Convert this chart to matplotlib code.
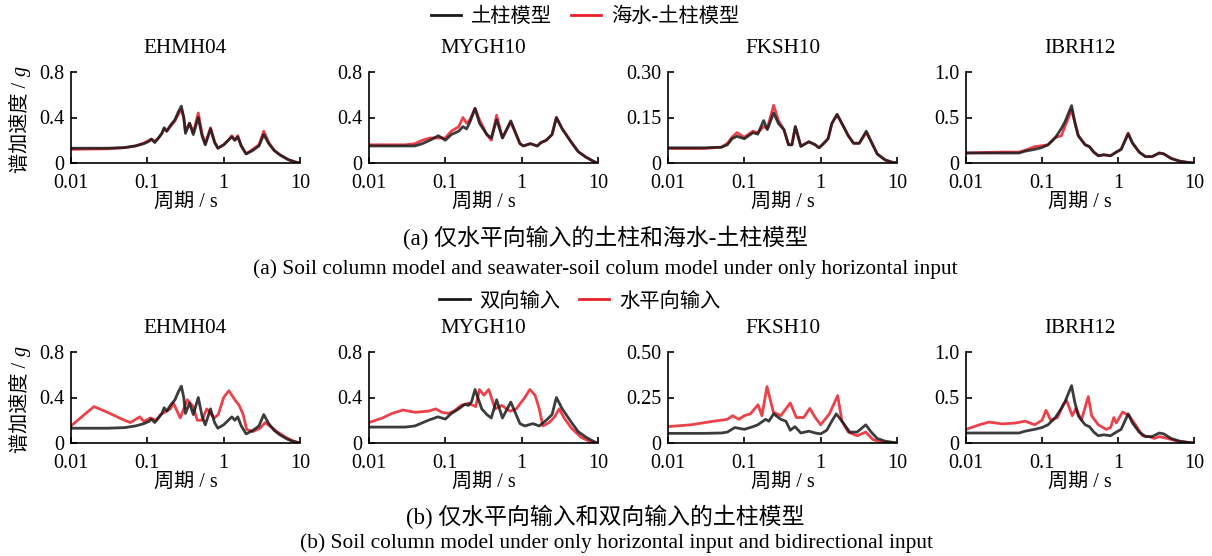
import numpy as np
import matplotlib
matplotlib.use("Agg")
import matplotlib.pyplot as plt
from matplotlib.lines import Line2D

plt.rcParams['font.family'] = ['Liberation Serif', 'Noto Sans CJK SC']

# ---- data (periods in s, spectral acceleration in g) ----
stations = ["EHMH04", "MYGH10", "FKSH10", "IBRH12"]

# (a) soil column (black) vs seawater-soil column (red), horizontal input only
T_a1 = [0.01, 0.03, 0.05, 0.07, 0.09, 0.105, 0.113, 0.125, 0.14, 0.155, 0.166, 0.18, 0.2, 0.23, 0.255,
        0.279, 0.3, 0.316, 0.357, 0.40, 0.465, 0.52, 0.574, 0.673, 0.76, 0.84, 1.0, 1.15, 1.28, 1.4,
        1.53, 1.7, 1.97, 2.4, 2.9, 3.35, 3.9, 4.6, 5.5, 7.0, 8.5, 10]
a1_soil = [0.13, 0.13, 0.135, 0.15, 0.17, 0.19, 0.21, 0.18, 0.22, 0.26, 0.31, 0.28, 0.33, 0.38, 0.45,
           0.50, 0.40, 0.26, 0.35, 0.25, 0.40, 0.24, 0.16, 0.30, 0.18, 0.13, 0.16, 0.20, 0.23, 0.20,
           0.23, 0.15, 0.08, 0.11, 0.15, 0.25, 0.17, 0.11, 0.07, 0.03, 0.01, 0.0]
a1_sea = [0.12, 0.125, 0.135, 0.15, 0.175, 0.20, 0.21, 0.19, 0.22, 0.26, 0.30, 0.28, 0.32, 0.37, 0.43,
          0.47, 0.40, 0.28, 0.35, 0.27, 0.44, 0.26, 0.17, 0.31, 0.19, 0.13, 0.16, 0.20, 0.24, 0.20,
          0.24, 0.15, 0.08, 0.12, 0.16, 0.28, 0.18, 0.11, 0.07, 0.03, 0.01, 0.0]

T_a2 = [0.01, 0.03, 0.04, 0.05, 0.063, 0.081, 0.1, 0.12, 0.15, 0.17, 0.19, 0.21, 0.245, 0.28, 0.35,
        0.40, 0.47, 0.56, 0.72, 0.95, 1.05, 1.3, 1.6, 1.8, 2.1, 2.5, 2.85, 3.4, 4.5, 5.5, 7.0, 9.0, 10]
a2_soil = [0.15, 0.15, 0.15, 0.17, 0.20, 0.24, 0.20, 0.25, 0.28, 0.32, 0.30, 0.36, 0.48, 0.35, 0.25,
           0.22, 0.38, 0.22, 0.37, 0.17, 0.15, 0.17, 0.15, 0.18, 0.20, 0.25, 0.40, 0.30, 0.18, 0.10,
           0.05, 0.01, 0.0]
a2_sea = [0.16, 0.16, 0.17, 0.20, 0.22, 0.22, 0.22, 0.28, 0.32, 0.40, 0.35, 0.38, 0.48, 0.38, 0.25,
          0.20, 0.42, 0.22, 0.36, 0.17, 0.15, 0.17, 0.15, 0.18, 0.20, 0.25, 0.40, 0.30, 0.18, 0.10,
          0.05, 0.01, 0.0]

T_a3 = [0.01, 0.03, 0.05, 0.06, 0.069, 0.08, 0.1, 0.13, 0.15, 0.179, 0.2, 0.242, 0.28, 0.33, 0.38,
        0.42, 0.466, 0.55, 0.7, 0.85, 0.95, 1.1, 1.25, 1.4, 1.64, 1.9, 2.3, 2.7, 3.2, 3.96, 4.6, 5.5,
        7.0, 8.5, 10]
a3_soil = [0.05, 0.05, 0.052, 0.06, 0.08, 0.088, 0.08, 0.10, 0.095, 0.14, 0.11, 0.165, 0.13, 0.11,
           0.06, 0.06, 0.12, 0.055, 0.07, 0.06, 0.05, 0.065, 0.08, 0.13, 0.16, 0.13, 0.09, 0.065, 0.065,
           0.105, 0.07, 0.03, 0.01, 0.003, 0.0]
a3_sea = [0.048, 0.048, 0.052, 0.065, 0.085, 0.10, 0.085, 0.105, 0.10, 0.12, 0.115, 0.19, 0.14, 0.11,
          0.06, 0.06, 0.12, 0.055, 0.07, 0.06, 0.05, 0.065, 0.08, 0.13, 0.16, 0.13, 0.09, 0.065, 0.065,
          0.10, 0.07, 0.03, 0.01, 0.003, 0.0]

T_a4 = [0.01, 0.03, 0.05, 0.06, 0.08, 0.1, 0.12, 0.15, 0.18, 0.2, 0.245, 0.27, 0.3, 0.37, 0.42, 0.48,
        0.55, 0.65, 0.8, 0.95, 1.1, 1.36, 1.55, 1.9, 2.3, 2.8, 3.5, 4.0, 5.0, 6.5, 8.5, 10]
a4_soil = [0.11, 0.11, 0.11, 0.13, 0.15, 0.17, 0.20, 0.28, 0.38, 0.45, 0.63, 0.45, 0.30, 0.20, 0.18,
           0.12, 0.08, 0.09, 0.08, 0.12, 0.15, 0.32, 0.22, 0.12, 0.07, 0.07, 0.11, 0.10, 0.05, 0.02,
           0.005, 0.0]
a4_sea = [0.11, 0.12, 0.12, 0.14, 0.18, 0.19, 0.20, 0.28, 0.30, 0.40, 0.58, 0.45, 0.30, 0.20, 0.18,
          0.12, 0.08, 0.09, 0.08, 0.12, 0.15, 0.33, 0.22, 0.12, 0.07, 0.07, 0.11, 0.10, 0.05, 0.02,
          0.005, 0.0]

# (b) bidirectional input (black) vs horizontal input only (red)
T_b1 = T_a1
b1_bi = a1_soil
T_b1h = [0.01, 0.015, 0.02, 0.03, 0.05, 0.06, 0.08, 0.09, 0.11, 0.13, 0.15, 0.2, 0.22, 0.27, 0.3,
         0.334, 0.4, 0.45, 0.52, 0.6, 0.75, 0.85, 1.0, 1.17, 1.4, 1.6, 1.8, 2.0, 2.4, 3.0, 3.5, 4.2,
         5.0, 6.5, 8.0, 10]
b1_h = [0.15, 0.25, 0.32, 0.27, 0.20, 0.18, 0.23, 0.19, 0.22, 0.20, 0.25, 0.30, 0.35, 0.22, 0.30,
        0.38, 0.32, 0.20, 0.20, 0.30, 0.22, 0.25, 0.40, 0.46, 0.38, 0.33, 0.25, 0.12, 0.10, 0.13, 0.18,
        0.14, 0.10, 0.05, 0.02, 0.0]

T_b2 = [0.01, 0.03, 0.04, 0.06, 0.08, 0.1, 0.12, 0.15, 0.18, 0.2, 0.22, 0.245, 0.3, 0.35, 0.40, 0.47,
        0.56, 0.72, 0.95, 1.1, 1.4, 1.7, 2.1, 2.5, 2.85, 3.4, 4.5, 5.5, 7.0, 9.0, 10]
b2_bi = [0.14, 0.14, 0.15, 0.20, 0.23, 0.21, 0.26, 0.30, 0.34, 0.33, 0.36, 0.47, 0.30, 0.25, 0.22,
         0.38, 0.22, 0.36, 0.17, 0.15, 0.17, 0.15, 0.20, 0.25, 0.40, 0.30, 0.18, 0.10, 0.05, 0.01, 0.0]
T_b2h = [0.01, 0.015, 0.02, 0.028, 0.04, 0.06, 0.075, 0.09, 0.11, 0.13, 0.16, 0.2, 0.25, 0.28, 0.32,
         0.37, 0.45, 0.55, 0.7, 0.85, 1.1, 1.28, 1.5, 1.7, 1.9, 2.3, 2.7, 3.1, 3.6, 4.5, 6.0, 8.0, 10]
b2_h = [0.18, 0.22, 0.26, 0.29, 0.27, 0.28, 0.30, 0.27, 0.26, 0.28, 0.33, 0.35, 0.32, 0.47, 0.42,
        0.47, 0.30, 0.33, 0.28, 0.30, 0.40, 0.47, 0.42, 0.30, 0.15, 0.18, 0.23, 0.30, 0.22, 0.13,
        0.05, 0.01, 0.0]

T_b3 = [0.01, 0.03, 0.05, 0.06, 0.075, 0.1, 0.13, 0.15, 0.19, 0.21, 0.242, 0.3, 0.35, 0.4, 0.46,
        0.55, 0.7, 0.85, 1.0, 1.2, 1.4, 1.6, 1.9, 2.4, 3.0, 3.9, 4.6, 5.5, 7.0, 10]
b3_bi = [0.053, 0.053, 0.055, 0.06, 0.085, 0.075, 0.09, 0.10, 0.13, 0.12, 0.16, 0.13, 0.12, 0.07,
         0.09, 0.055, 0.065, 0.055, 0.05, 0.07, 0.12, 0.16, 0.12, 0.06, 0.06, 0.10, 0.06, 0.025,
         0.01, 0.0]
T_b3h = [0.01, 0.02, 0.04, 0.06, 0.07, 0.085, 0.1, 0.12, 0.151, 0.17, 0.198, 0.24, 0.3, 0.40, 0.48,
         0.6, 0.72, 0.85, 1.0, 1.3, 1.67, 1.9, 2.3, 3.0, 3.9, 4.8, 6.0, 10]
b3_h = [0.09, 0.10, 0.12, 0.13, 0.15, 0.13, 0.15, 0.16, 0.21, 0.15, 0.31, 0.17, 0.15, 0.22, 0.14,
        0.14, 0.19, 0.14, 0.10, 0.16, 0.26, 0.12, 0.06, 0.04, 0.06, 0.02, 0.005, 0.0]

T_b4 = T_a4
b4_bi = a4_soil
T_b4h = [0.01, 0.015, 0.02, 0.03, 0.045, 0.06, 0.08, 0.1, 0.113, 0.13, 0.16, 0.19, 0.21, 0.25, 0.28,
         0.33, 0.406, 0.45, 0.55, 0.7, 0.8, 0.88, 0.95, 1.15, 1.4, 1.7, 2.1, 2.6, 3.0, 3.5, 4.5, 6.0, 10]
b4_h = [0.15, 0.20, 0.23, 0.21, 0.22, 0.24, 0.20, 0.25, 0.36, 0.25, 0.28, 0.42, 0.47, 0.30, 0.38,
        0.25, 0.51, 0.30, 0.20, 0.15, 0.17, 0.28, 0.22, 0.34, 0.30, 0.20, 0.08, 0.07, 0.05, 0.07, 0.05,
        0.02, 0.0]

top_black = [(T_a1, a1_soil), (T_a2, a2_soil), (T_a3, a3_soil), (T_a4, a4_soil)]
top_red = [(T_a1, a1_sea), (T_a2, a2_sea), (T_a3, a3_sea), (T_a4, a4_sea)]
bot_black = [(T_b1, b1_bi), (T_b2, b2_bi), (T_b3, b3_bi), (T_b4, b4_bi)]
bot_red = [(T_b1h, b1_h), (T_b2h, b2_h), (T_b3h, b3_h), (T_b4h, b4_h)]

top_yticks = [[0, 0.4, 0.8], [0, 0.4, 0.8], [0, 0.15, 0.30], [0, 0.5, 1.0]]
top_ylabels = [["0", "0.4", "0.8"], ["0", "0.4", "0.8"], ["0", "0.15", "0.30"], ["0", "0.5", "1.0"]]
bot_yticks = [[0, 0.4, 0.8], [0, 0.4, 0.8], [0, 0.25, 0.50], [0, 0.5, 1.0]]
bot_ylabels = [["0", "0.4", "0.8"], ["0", "0.4", "0.8"], ["0", "0.25", "0.50"], ["0", "0.5", "1.0"]]
xticks = [0.01, 0.1, 1, 10]
xticklabels = ["0.01", "0.1", "1", "10"]

BLACK = "#1a1a1a"
RED = "#e8202a"

W, H = 1212, 556
fig = plt.figure(figsize=(W / 100, H / 100), dpi=100)

col_x = [(71, 300), (369, 598), (668, 897), (966, 1194)]
row_y = [(72, 163), (352, 443)]


def make_axes(x0, x1, y0, y1):
    return fig.add_axes([x0 / W, 1 - y1 / H, (x1 - x0) / W, (y1 - y0) / H])


def draw_ylabel(y_bottom_px):
    # rotated label: Chinese part upright font, then italic g above it
    renderer = fig.canvas.get_renderer()
    x = 26 / W
    t1 = fig.text(x, 1 - y_bottom_px / H, "谱加速度 / ", rotation=90, rotation_mode='anchor',
                  ha='left', va='baseline', fontsize=14.5)
    bb = t1.get_window_extent(renderer)
    fig.text(x, (bb.y1 + 1) / H, "g", rotation=90, rotation_mode='anchor',
             ha='left', va='baseline', fontsize=14.5, style='italic')


def draw_row(r, blacks, reds, yticks, ylabels):
    y0, y1 = row_y[r]
    for i in range(4):
        ax = make_axes(col_x[i][0], col_x[i][1], y0, y1)
        tr, vr = reds[i]
        tb, vb = blacks[i]
        ax.plot(tr, vr, color=RED, lw=2.0, alpha=0.85, solid_joinstyle='round')
        ax.plot(tb, vb, color=BLACK, lw=2.0, alpha=0.85, solid_joinstyle='round')
        ax.set_xscale('log')
        ax.set_xlim(0.01, 10)
        ax.set_ylim(0, yticks[i][-1])
        ax.set_xticks(xticks)
        ax.set_xticklabels(xticklabels)
        ax.xaxis.set_minor_locator(matplotlib.ticker.NullLocator())
        ax.set_yticks(yticks[i])
        ax.set_yticklabels(ylabels[i])
        for s in ['top', 'right']:
            ax.spines[s].set_visible(False)
        for s in ['left', 'bottom']:
            ax.spines[s].set_linewidth(1.2)
        ax.tick_params(direction='in', length=4, width=1.2, labelsize=14.5)
        ax.tick_params(axis='x', pad=8)
        ax.tick_params(axis='y', pad=5)
        ax.set_title(stations[i], fontsize=15.2, pad=14)
        ax.set_xlabel("周期 / s", fontsize=14.5, labelpad=0)
    draw_ylabel(y1 + 10)


draw_row(0, top_black, top_red, top_yticks, top_ylabels)
draw_row(1, bot_black, bot_red, bot_yticks, bot_ylabels)

h_black = Line2D([], [], color=BLACK, lw=2.0)
h_red = Line2D([], [], color=RED, lw=2.0)
fig.legend([h_black, h_red], ["土柱模型", "海水-土柱模型"], loc='center',
           bbox_to_anchor=(585 / W, 1 - 17 / H), ncol=2, frameon=False, fontsize=14.6,
           handlelength=1.5, handletextpad=0.5, columnspacing=0.9)
fig.legend([h_black, h_red], ["双向输入", "水平向输入"], loc='center',
           bbox_to_anchor=(580 / W, 1 - 302 / H), ncol=2, frameon=False, fontsize=14.6,
           handlelength=1.5, handletextpad=0.5, columnspacing=0.9)

fig.text(605 / W, 1 - 238 / H, "(a) 仅水平向输入的土柱和海水-土柱模型", ha='center', va='center', fontsize=16.5)
fig.text(605 / W, 1 - 269 / H,
         "(a) Soil column model and seawater-soil colum model under only horizontal input",
         ha='center', va='center', fontsize=15.4)
fig.text(605 / W, 1 - 517 / H, "(b) 仅水平向输入和双向输入的土柱模型", ha='center', va='center', fontsize=16.5)
fig.text(616 / W, 1 - 543 / H,
         "(b) Soil column model under only horizontal input and bidirectional input",
         ha='center', va='center', fontsize=15.4)

fig.savefig("out.png", dpi=100)
